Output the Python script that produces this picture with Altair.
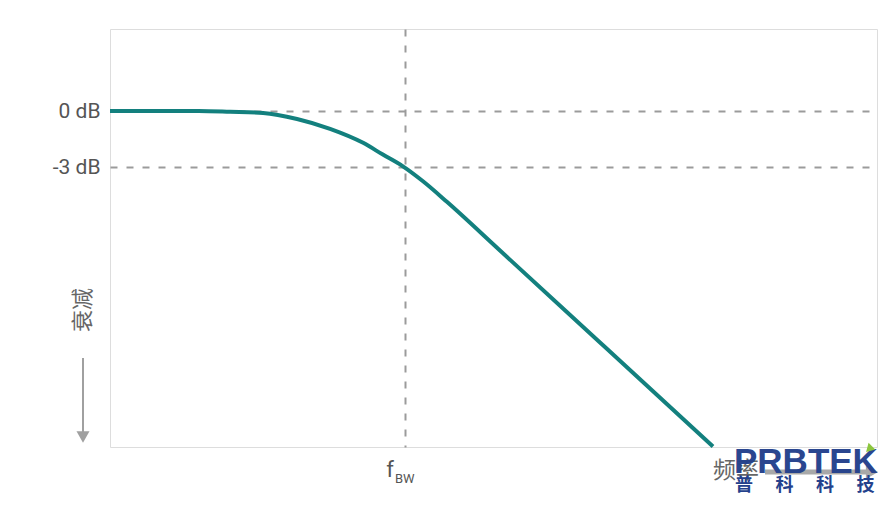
import altair as alt
import pandas as pd

# Response curve (x: frequency relative to f_BW, y: attenuation in dB)
freq = [0.0, 0.30, 0.407, 0.519, 0.634, 0.746, 0.858, 0.925, 0.993, 1.061, 1.142, 1.322, 1.661, 2.044]
gain = [0.0, 0.0, -0.04, -0.10, -0.42, -0.95, -1.70, -2.33, -2.96, -3.76, -4.86, -7.47, -12.40, -17.97]

db_ticks = [0, -3]
db_labels = ["0 dB", "-3 dB"]
fbw = [1.0]

X_DOM = [0, 2.6]
Y_DOM = [-18, 4.4]

W, H = 767, 418
FONT = "Roboto, sans-serif"
CJK = "Noto Sans CJK SC"
GRID = "#9b9b9b"
TEAL = "#13807e"

curve_df = pd.DataFrame({"f": freq, "g": gain})

xs = alt.Scale(domain=X_DOM, nice=False, zero=False)
ys = alt.Scale(domain=Y_DOM, nice=False, zero=False)

label_map = "{" + ",".join(f"'{v}':'{l}'" for v, l in zip(db_ticks, db_labels)) + "}"

line = alt.Chart(curve_df).mark_line(
    color=TEAL, strokeWidth=4, interpolate="monotone"
).encode(
    x=alt.X("f:Q", scale=xs,
            axis=alt.Axis(values=fbw, labels=False, ticks=False, domain=False, title=None,
                          grid=True, gridColor=GRID, gridDash=[7, 9], gridWidth=2)),
    y=alt.Y("g:Q", scale=ys,
            axis=alt.Axis(values=db_ticks, ticks=False, domain=False, title=None,
                          labelExpr=f"{label_map}[datum.value]",
                          labelFontSize=21, labelColor="#555555", labelFont=FONT,
                          labelPadding=10,
                          grid=True, gridColor=GRID, gridDash=[7, 9], gridWidth=2)),
)

base = alt.Chart(pd.DataFrame({"a": [0]}))

# y-axis title with down arrow
ytitle = base.mark_text(text="衰减", angle=270, font=CJK, fontSize=22, color="#666666").encode(
    x=alt.value(-27), y=alt.value(281))
yarrow = base.mark_rule(color="#a0a0a0", strokeWidth=2).encode(
    x=alt.value(-27), y=alt.value(329), y2=alt.value(406))
yhead = base.mark_point(shape="triangle-down", filled=True, color="#a0a0a0", size=170, opacity=1).encode(
    x=alt.value(-27), y=alt.value(408))

# f_BW label
f_lbl = base.mark_text(text="f", font=FONT, fontSize=22, color="#555555", align="center",
                       baseline="alphabetic").encode(x=alt.value(280), y=alt.value(448))
bw_lbl = base.mark_text(text="BW", font=FONT, fontSize=13, color="#555555", align="left",
                        baseline="alphabetic").encode(x=alt.value(285), y=alt.value(454))

# frequency axis title with arrow
farrow = base.mark_rule(color="#a8a8a8", strokeWidth=5).encode(
    x=alt.value(655), x2=alt.value(758), y=alt.value(443))
fhead = base.mark_point(shape="triangle-right", filled=True, color="#a8a8a8", size=200, opacity=1).encode(
    x=alt.value(762), y=alt.value(443))
f_title = base.mark_text(text="频率", font=CJK, fontSize=23, color="#666666", align="left").encode(
    x=alt.value(603), y=alt.value(442))

# watermark
wm1 = base.mark_text(text="PRBTEK", font="Liberation Sans, Arial", fontWeight="bold", fontSize=35,
                     color="#24418c", align="left", baseline="alphabetic", opacity=0.97).encode(
    x=alt.value(624), y=alt.value(444))
wm2 = base.mark_text(text="普\u3000\u2005科\u3000\u2005科\u3000\u2005技", font=CJK, fontWeight="bold",
                     fontSize=18, color="#24418c", align="left").encode(
    x=alt.value(625), y=alt.value(457))
wm3 = base.mark_point(shape="triangle-down", filled=True, color="#8cc63f", size=90, opacity=1,
                      angle=45).encode(x=alt.value(759), y=alt.value(420))

chart = alt.layer(
    line, ytitle, yarrow, yhead, f_lbl, bw_lbl, farrow, fhead, f_title, wm1, wm2, wm3
).properties(
    width=W, height=H,
    autosize=alt.AutoSizeParams(type="none"),
    padding={"left": 102, "top": 21, "right": 5, "bottom": 52},
).configure_view(
    stroke="#d4d4d4", strokeWidth=2
).configure(background="white")

chart.save("out.html", embed_options={"renderer": "svg", "actions": False})
